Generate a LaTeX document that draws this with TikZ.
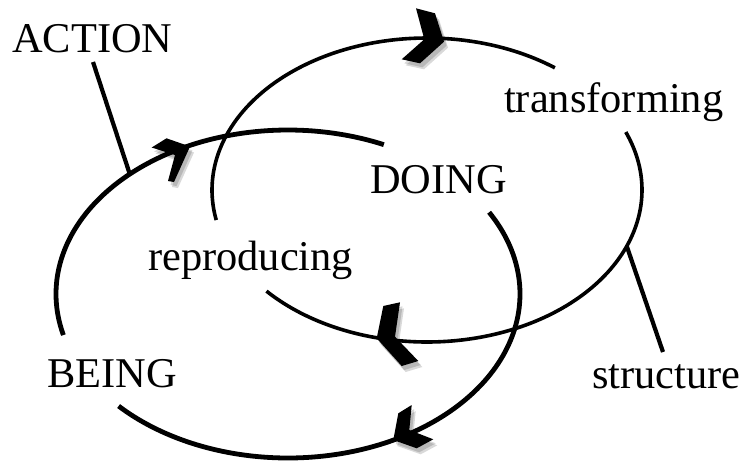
\documentclass[tikz,border=0pt]{standalone}
\usepackage{fontspec}
\setmainfont{Liberation Serif}
\begin{document}
\begin{tikzpicture}[x=1pt,y=-1pt,
  lbl/.style={inner sep=0pt, anchor=base west, font=\fontsize{42.4}{50}\selectfont},
  upperloop/.style={line width=3.6pt},
  lowerloop/.style={line width=4.8pt},
  spoke/.style={line width=4.2pt},
  chev/.style={fill=black},
  chevshadow/.style={fill=black, opacity=0.15}]
\useasboundingbox (0,0) rectangle (744,464);
\fill[white] (0,0) rectangle (744,464);

% upper loop (structure)
\draw[upperloop] plot[domain=-22.4:138.3, samples=120, smooth] ({427+215*cos(\x)},{190+152*sin(\x)});
\draw[upperloop] plot[domain=168.6:306.5, samples=120, smooth] ({427+215*cos(\x)},{190+152*sin(\x)});
% lower loop (action)
\draw[lowerloop] plot[domain=-29.9:136.9, samples=120, smooth] ({288+232*cos(\x)},{294+164*sin(\x)});
\draw[lowerloop] plot[domain=165.5:294.4, samples=120, smooth] ({288+232*cos(\x)},{294+164*sin(\x)});

% labels
\node[lbl] (action) at (12,52) {ACTION};
\node[lbl] (transforming) at (504,112) {transforming};
\node[lbl] (doing) at (370,193) {DOING};
\node[lbl] (reproducing) at (148,270) {reproducing};
\node[lbl] (being) at (47,387) {BEING};
\node[lbl] (structure) at (592,388) {structure};

% connectors
\coordinate (actTop) at (93,62);
\coordinate (actFoot) at ({288+232*cos(227)},{294+164*sin(227)});
\coordinate (strFoot) at ({427+215*cos(21.7)},{190+152*sin(21.7)});
\coordinate (strEnd) at (663,352);
\draw[spoke] (actTop) -- (actFoot);
\draw[spoke] (strFoot) -- (strEnd);

% arrowheads with shadows
\foreach \dx/\dy/\sty in {4/6/chevshadow, 2.5/4/chevshadow, 0/0/chev}{
  \begin{scope}[shift={(\dx,\dy)}]
    \fill[\sty] (416,8.3) -- (435,13.3) -- (444,41.7) -- (420,63.3) -- (401.7,59.3) -- (424.3,39.3) -- cycle;
    \fill[\sty] (151.7,147.5) -- (166.5,138.3) -- (190,146.5) -- (174,182) -- (168,181) -- (175,155) -- cycle;
    \fill[\sty] (383.3,306) -- (400,302.3) -- (395,336.7) -- (418.3,361) -- (401.7,366) -- (376.7,338.3) -- cycle;
    \fill[\sty] (398.3,413.3) -- (411.7,405) -- (409.3,430) -- (433.3,439.3) -- (416.7,448.3) -- (393.3,440) -- cycle;
  \end{scope}
}
\end{tikzpicture}
\end{document}
